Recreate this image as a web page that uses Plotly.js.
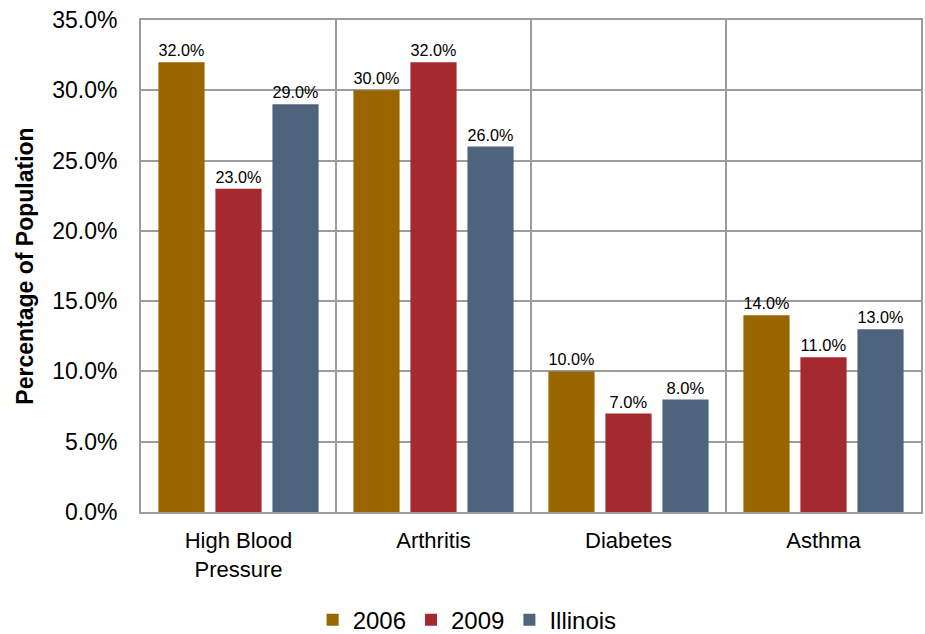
<!DOCTYPE html>
<html><head><meta charset="utf-8">
<script src="https://cdn.plot.ly/plotly-3.0.1.min.js"></script>
<style>html,body{margin:0;padding:0;background:#fff}#chart{width:925px;height:634px}</style>
</head><body><div id="chart"></div>
<script>
const categories = ["High Blood<br>Pressure", "Arthritis", "Diabetes", "Asthma"];
const seriesNames = ["2006", "2009", "Illinois"];
const values2006 = [0.32, 0.30, 0.10, 0.14];
const values2009 = [0.23, 0.32, 0.07, 0.11];
const valuesIllinois = [0.29, 0.26, 0.08, 0.13];
const yTicks = [0, 0.05, 0.10, 0.15, 0.20, 0.25, 0.30, 0.35];
const colors = ["#996600", "#A52A2F", "#4E647D"];

const allValues = [values2006, values2009, valuesIllinois];
const traces = allValues.map((v, i) => ({
  type: "bar", name: seriesNames[i], x: categories, y: v,
  marker: {color: colors[i]},
  text: v.map(d => (d * 100).toFixed(1) + "%"),
  textposition: "outside", cliponaxis: false,
  textfont: {size: 16.5, color: "#000", family: "Liberation Sans, Arial, sans-serif"},
  hoverinfo: "none"
}));

const layout = {
  width: 925, height: 634,
  margin: {l: 141, r: 4, t: 20, b: 122, autoexpand: false},
  font: {family: "Liberation Sans, Arial, sans-serif", color: "#000"},
  paper_bgcolor: "#fff", plot_bgcolor: "#fff",
  barmode: "group", bargap: 0.123, bargroupgap: 0.19,
  showlegend: true,
  legend: {orientation: "h", xref: "container", x: 0.505, xanchor: "center",
           yref: "container", y: 0.022, yanchor: "middle",
           font: {size: 24}, traceorder: "normal", itemwidth: 30},
  xaxis: {
    type: "category", tickson: "boundaries", showgrid: true, gridcolor: "#9c9c9c", gridwidth: 2,
    showline: true, linecolor: "#9c9c9c", linewidth: 2, mirror: true,
    ticks: "", tickfont: {size: 22}, automargin: false, ticklabelstandoff: 8
  },
  yaxis: {
    range: [0, 0.35], tickvals: yTicks, tickformat: ".1%",
    showgrid: true, gridcolor: "#9c9c9c", gridwidth: 2,
    showline: true, linecolor: "#9c9c9c", linewidth: 2, mirror: true,
    zeroline: false, ticks: "", tickfont: {size: 23}, ticklabelstandoff: 17,
    title: {text: "<b>Percentage of Population</b>", font: {size: 23}, standoff: 12},
    automargin: false
  }
};
Plotly.newPlot("chart", traces, layout, {staticPlot: true});
</script></body></html>
